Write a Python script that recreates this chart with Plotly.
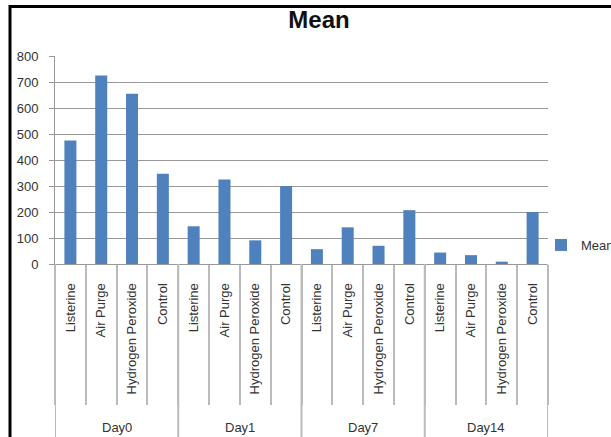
import plotly.graph_objects as go

days = ["Day0", "Day0", "Day0", "Day0", "Day1", "Day1", "Day1", "Day1",
        "Day7", "Day7", "Day7", "Day7", "Day14", "Day14", "Day14", "Day14"]
treatments = ["Listerine", "Air Purge", "Hydrogen Peroxide", "Control"] * 4
mean_values = [475, 725, 655, 347,
               145, 325, 91, 300,
               57, 141, 70, 207,
               44, 34, 9, 200]
y_ticks = [0, 100, 200, 300, 400, 500, 600, 700, 800]

W, H = 611, 437
L, R, T, B = 55, 63, 56, 173
pw = W - L - R
ph = H - T - B

n = len(treatments)
positions = list(range(n))
boundaries = [i - 0.5 for i in range(n + 1)]

# group structure derived from the day labels
groups = []
for i, d in enumerate(days):
    if not groups or groups[-1][0] != d:
        groups.append([d, i, i])
    else:
        groups[-1][2] = i
group_edges = [g[1] - 0.5 for g in groups] + [groups[-1][2] + 0.5]

fig = go.Figure()
fig.add_trace(go.Bar(
    x=positions, y=mean_values, name="Mean",
    marker=dict(color="#4F81BD", line=dict(width=0)),
    customdata=list(zip(days, treatments)),
    hovertemplate="%{customdata[0]} %{customdata[1]}: %{y}<extra></extra>",
))

font_family = "Liberation Sans, Arial, sans-serif"
sep_color = "#BBBBBB"

shapes = [dict(type="line", xref="x", yref="paper", x0=e, x1=e, y0=0, y1=-1.0,
               line=dict(color=sep_color, width=2), layer="above") for e in group_edges]
shapes.append(dict(type="rect", xref="paper", yref="paper",
                   x0=(10 - L) / pw, x1=1.3, y0=-1.2, y1=((T + ph) - 6.5) / ph,
                   line=dict(color="black", width=3), fillcolor="rgba(0,0,0,0)", layer="above"))

annotations = [dict(x=(g[1] + g[2]) / 2, xref="x", y=(264 - 427) / ph, yref="paper",
                    text=g[0], showarrow=False, xanchor="center", yanchor="middle",
                    font=dict(size=13, color="#333333", family=font_family)) for g in groups]

fig.update_layout(
    width=W, height=H,
    margin=dict(l=L, r=R, t=T, b=B, autoexpand=False),
    paper_bgcolor="white", plot_bgcolor="white",
    bargap=0.61,
    font=dict(family=font_family, size=13, color="#333333"),
    title=dict(text="<b>Mean</b>", x=319 / W, xref="container", xanchor="center",
               y=1 - 20 / H, yref="container", yanchor="middle",
               font=dict(size=24, color="#111111", family=font_family)),
    showlegend=True,
    legend=dict(x=(541 - L) / pw, xanchor="left", y=(264 - 245) / ph, yanchor="middle",
                font=dict(size=13, color="#333333"), bgcolor="rgba(0,0,0,0)"),
    xaxis=dict(
        range=[-0.5, n - 0.5], showline=True, linecolor="#999999", linewidth=1,
        tickmode="array", tickvals=positions, ticktext=treatments,
        ticks="", ticklabelstandoff=13, tickangle=-90,
        showgrid=False, zeroline=False,
        minor=dict(tickmode="array", tickvals=boundaries, ticks="outside", ticklen=140,
                   tickcolor=sep_color, tickwidth=2, showgrid=False),
        tickfont=dict(size=13, color="#333333"),
    ),
    yaxis=dict(
        range=[0, 800], tickvals=y_ticks, showgrid=True, gridcolor="#999999", gridwidth=1,
        showline=True, linecolor="#999999", linewidth=1,
        ticks="outside", ticklen=5, tickcolor="#999999",
        ticklabelstandoff=8, tickfont=dict(size=13, color="#333333"), zeroline=False,
    ),
    shapes=shapes,
    annotations=annotations,
)

fig.write_html("out.html")
